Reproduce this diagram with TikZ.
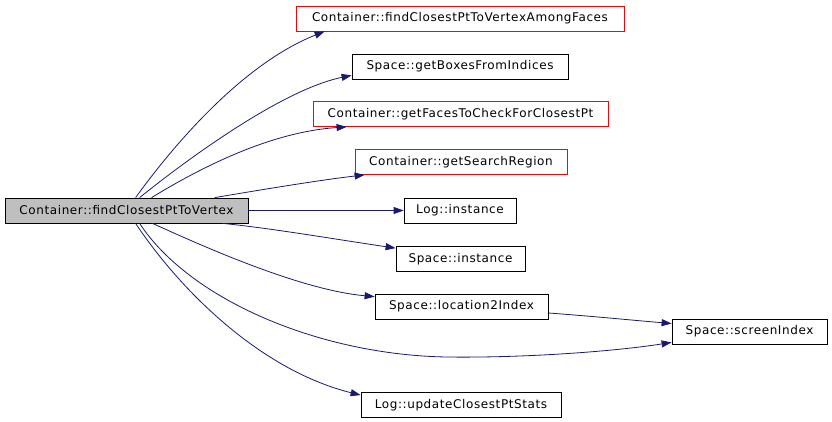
\documentclass[tikz,border=0pt]{standalone}
\usepackage{fontspec}
\newfontfamily\dxfont[LetterSpace=5]{DejaVu Sans}
\usetikzlibrary{arrows.meta}
\definecolor{edgeblue}{HTML}{191970}
\definecolor{mainfill}{HTML}{BFBFBF}
\tikzset{
  fn/.style={draw=black, line width=0.8pt, rectangle, inner sep=0pt, minimum height=25pt,
    font=\dxfont\fontsize{12}{14}\selectfont, text=black},
  fnred/.style={fn, draw=red},
  fnmain/.style={fn, fill=mainfill},
  call/.style={draw=edgeblue, line width=0.8pt, -{Triangle[length=10pt,width=7pt]}, edgeblue}
}
\begin{document}
\begin{tikzpicture}[x=1pt,y=-1pt]
\useasboundingbox (0,0) rectangle (832,421);
\node[fnmain, minimum width=243pt] (main) at (126.5,210.5) {Container::findClosestPtToVertex};
\node[fnred, minimum width=328pt] (among) at (460,18.5) {Container::findClosestPtToVertexAmongFaces};
\node[fn, minimum width=216pt] (boxes) at (460,66.5) {Space::getBoxesFromIndices};
\node[fnred, minimum width=295pt] (faces) at (460.5,114) {Container::getFacesToCheckForClosestPt};
\node[fnred, minimum width=212pt] (region) at (461,162) {Container::getSearchRegion};
\node[fn, minimum width=112pt] (loginst) at (460,210.5) {Log::instance};
\node[fn, minimum width=129pt] (spinst) at (460.5,259) {Space::instance};
\node[fn, minimum width=173pt] (loc) at (461.5,306.5) {Space::location2Index};
\node[fn, minimum width=155pt] (scr) at (749.5,331.5) {Space::screenIndex};
\node[fn, minimum width=200pt] (stats) at (461,405) {Log::updateClosestPtStats};

\draw[call] ([xshift=131pt]main.north west) .. controls (170,150) and (240,65) .. ([xshift=29pt]among.south west);
\draw[call] ([xshift=135pt]main.north west) .. controls (180,165) and (280,90) .. ([yshift=4pt]boxes.south west);
\draw[call] ([xshift=147pt]main.north west) .. controls (200,168) and (270,132) .. ([xshift=34pt]faces.south west);
\draw[call] ([xshift=210pt]main.north west) .. controls (260,190) and (320,180) .. ([xshift=10pt]region.south west);
\draw[call] (main.east) -- (loginst.west);
\draw[call] ([xshift=218pt]main.south west) .. controls (270,228) and (340,240) .. ([yshift=-2pt]spinst.north west);
\draw[call] ([xshift=148pt]main.south west) .. controls (200,245) and (300,290) .. ([yshift=-3pt]loc.north west);
\draw[call] ([xshift=135pt]main.south west) .. controls (190,300) and (320,355) .. (447,357)
  .. controls (520,358) and (610,352) .. ([yshift=2pt]scr.south west);
\draw[call] ([xshift=131pt]main.south west) .. controls (180,290) and (260,370) .. ([yshift=-3pt]stats.north west);
\draw[call] ([yshift=-6.5pt]loc.east) .. controls (590,316) and (630,320) .. ([yshift=8pt]scr.west);
\end{tikzpicture}
\end{document}
